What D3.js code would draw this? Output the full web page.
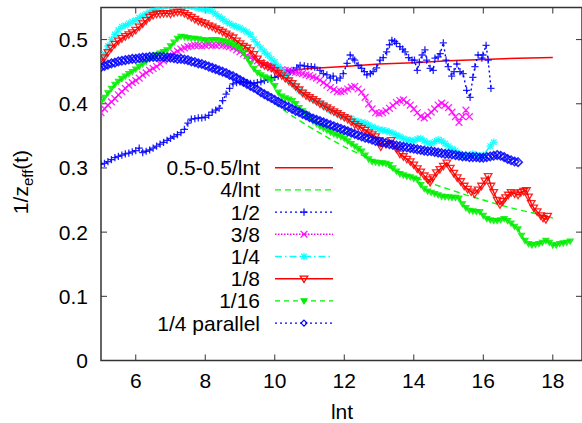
<html>
<head>
<script src="https://d3js.org/d3.v7.min.js"></script>
<style>
  body { margin: 0; background: #fff; }
  text { font-family: "Liberation Sans", Arial, Helvetica, sans-serif; fill: #000; }
</style>
</head>
<body>
<svg width="582" height="423"></svg>
<script>
// axis ticks
const xTicks = [6, 8, 10, 12, 14, 16, 18];
const yTicks = [0, 0.1, 0.2, 0.3, 0.4, 0.5];
const yTickLabels = ["0", "0.1", "0.2", "0.3", "0.4", "0.5"];
const seriesNames = ["0.5-0.5/lnt", "4/lnt", "1/2", "3/8", "1/4", "1/8", "1/16", "1/4 parallel"];

// [lnt, 1/z_eff]
const fitHalf = [[10,.450],[11,.455],[12,.458],[13,.462],[14,.464],[15,.467],[16,.469],[17,.471],[18,.472]];
const fitFour = [[10,.400],[10.5,.381],[11,.364],[11.5,.348],[12,.333],[12.5,.320],[13,.308],[13.5,.296],[14,.286],
  [14.5,.276],[15,.267],[15.5,.258],[16,.250],[16.5,.242],[17,.235],[17.5,.229],[18,.222]];

const half = [[5.0,.306],[5.1,.307],[5.2,.310],[5.3,.313],[5.4,.316],[5.5,.318],[5.6,.320],[5.7,.322],[5.8,.323],[5.9,.325],
  [6.0,.327],[6.1,.331],[6.2,.324],[6.3,.326],[6.4,.328],[6.5,.331],[6.6,.334],[6.7,.337],[6.8,.340],[6.9,.343],
  [7.0,.346],[7.1,.349],[7.2,.352],[7.3,.355],[7.4,.360],[7.5,.370],[7.6,.376],[7.7,.377],[7.8,.378],[7.9,.378],
  [8.0,.379],[8.1,.382],[8.2,.387],[8.3,.390],[8.4,.393],[8.5,.405],[8.6,.415],[8.7,.424],[8.8,.431],[8.9,.433],
  [9.0,.434],[9.1,.434],[9.2,.433],[9.3,.432],[9.4,.432],[9.5,.433],[9.6,.434],[9.7,.436],[9.8,.438],[9.9,.440],
  [10.0,.441],[10.1,.443],[10.24,.445],[10.35,.448],[10.45,.450],[10.53,.452],[10.63,.456],[10.73,.460],[10.85,.459],
  [10.95,.458],[11.05,.458],[11.15,.457],[11.3,.452],[11.4,.447],[11.5,.445],[11.6,.440],[11.68,.443],[11.78,.437],
  [11.88,.440],[11.97,.447],[12.08,.463],[12.17,.476],[12.25,.470],[12.3,.468],[12.4,.460],[12.5,.455],[12.58,.450],
  [12.65,.445],[12.75,.447],[12.83,.450],[12.93,.456],[13.03,.468],[13.12,.472],[13.22,.481],[13.3,.492],[13.37,.499],
  [13.45,.497],[13.5,.494],[13.6,.489],[13.68,.485],[13.75,.481],[13.85,.472],[13.95,.468],[14.02,.468],[14.1,.452],
  [14.16,.465],[14.24,.476],[14.32,.484],[14.37,.468],[14.47,.455],[14.56,.452],[14.61,.471],[14.7,.473],[14.76,.478],
  [14.85,.495],[14.93,.468],[14.99,.458],[15.09,.443],[15.16,.450],[15.24,.462],[15.33,.450],[15.42,.447],[15.52,.421],
  [15.62,.410],[15.7,.441],[15.76,.458],[15.85,.476],[15.96,.471],[15.99,.476],[16.08,.491],[16.14,.468],[16.22,.424]];

const threeEighth = [[5.0,.386],[5.1,.392],[5.2,.398],[5.3,.403],[5.4,.408],[5.5,.414],[5.6,.419],[5.7,.424],[5.8,.429],
  [5.9,.433],[6.0,.436],[6.1,.440],[6.2,.445],[6.3,.448],[6.4,.452],[6.5,.455],[6.6,.458],[6.7,.462],[6.8,.467],[6.9,.471],
  [7.0,.475],[7.1,.479],[7.2,.482],[7.3,.485],[7.4,.487],[7.5,.489],[7.6,.490],[7.7,.491],[7.8,.491],[7.9,.490],
  [8.0,.491],[8.1,.492],[8.2,.491],[8.3,.491],[8.4,.492],[8.5,.491],[8.6,.490],[8.7,.489],[8.8,.487],[8.9,.484],
  [9.0,.481],[9.1,.478],[9.2,.475],[9.3,.472],[9.4,.470],[9.5,.467],[9.6,.464],[9.7,.461],[9.8,.459],[9.9,.457],
  [10.0,.455],[10.1,.454],[10.2,.453],[10.3,.452],[10.4,.452],[10.5,.450],[10.6,.449],[10.7,.448],[10.8,.447],[10.9,.445],
  [11.0,.444],[11.1,.442],[11.2,.440],[11.3,.437],[11.4,.433],[11.5,.429],[11.6,.425],[11.7,.422],[11.8,.419],[11.9,.419],
  [12.0,.420],[12.1,.423],[12.2,.426],[12.3,.427],[12.4,.423],[12.5,.418],[12.6,.410],[12.7,.400],[12.8,.392],[12.9,.386],
  [13.0,.385],[13.1,.386],[13.2,.389],[13.3,.393],[13.4,.397],[13.5,.402],[13.6,.405],[13.7,.406],[13.8,.402],[13.9,.398],
  [14.0,.392],[14.1,.386],[14.2,.380],[14.3,.378],[14.4,.382],[14.5,.387],[14.6,.392],[14.7,.398],[14.8,.401],[14.9,.398],
  [15.0,.394],[15.1,.387],[15.2,.380],[15.3,.371],[15.4,.380],[15.5,.390],[15.6,.380]];

const quarter = [[5.0,.465],[5.1,.478],[5.2,.490],[5.3,.500],[5.4,.508],[5.5,.515],[5.6,.520],[5.7,.522],[5.8,.525],[5.9,.528],
  [6.0,.530],[6.1,.534],[6.2,.537],[6.3,.540],[6.4,.543],[6.5,.546],[6.6,.548],[6.7,.550],[6.8,.552],[6.9,.553],
  [7.0,.554],[7.1,.555],[7.2,.555],[7.3,.554],[7.4,.553],[7.5,.553],[7.6,.552],[7.7,.551],[7.8,.549],[7.9,.548],
  [8.0,.547],[8.1,.546],[8.2,.544],[8.3,.540],[8.4,.536],[8.5,.532],[8.6,.528],[8.7,.525],[8.8,.522],[8.9,.520],
  [9.0,.518],[9.1,.515],[9.2,.512],[9.3,.508],[9.4,.500],[9.5,.493],[9.6,.487],[9.7,.481],[9.8,.476],[9.9,.470],
  [10.0,.465],[10.1,.458],[10.2,.452],[10.3,.445],[10.4,.438],[10.5,.432],[10.6,.427],[10.7,.422],[10.8,.418],[10.9,.414],
  [11.0,.410],[11.1,.407],[11.2,.404],[11.3,.401],[11.4,.398],[11.5,.394],[11.6,.390],[11.7,.387],[11.8,.385],[11.9,.382],
  [12.0,.380],[12.1,.378],[12.2,.377],[12.3,.374],[12.4,.372],[12.5,.371],[12.6,.370],[12.7,.367],[12.8,.364],[12.9,.362],
  [13.0,.360],[13.1,.359],[13.2,.358],[13.3,.356],[13.4,.354],[13.5,.351],[13.6,.349],[13.7,.346],[13.8,.344],[13.9,.343],
  [14.0,.342],[14.1,.345],[14.2,.346],[14.3,.342],[14.4,.339],[14.5,.338],[14.6,.341],[14.7,.344],[14.8,.342],[14.9,.338],
  [15.0,.334],[15.1,.330],[15.2,.327],[15.3,.323],[15.4,.320],[15.5,.319],[15.6,.320],[15.7,.322],[15.8,.320],[15.9,.318],
  [16.0,.320],[16.2,.334],[16.3,.340]];

const eighth = [[5.0,.465],[5.1,.472],[5.2,.480],[5.3,.487],[5.4,.493],[5.5,.498],[5.6,.502],[5.7,.505],[5.8,.508],[5.9,.511],
  [6.0,.515],[6.1,.520],[6.2,.525],[6.3,.530],[6.4,.535],[6.5,.538],[6.6,.540],[6.7,.540],[6.8,.541],[6.9,.541],
  [7.0,.540],[7.1,.542],[7.2,.543],[7.3,.543],[7.4,.541],[7.5,.538],[7.6,.535],[7.7,.532],[7.8,.529],[7.9,.527],
  [8.0,.525],[8.1,.522],[8.2,.520],[8.3,.517],[8.4,.515],[8.5,.512],[8.6,.509],[8.7,.506],[8.8,.503],[8.9,.498],
  [9.0,.494],[9.1,.490],[9.2,.487],[9.3,.483],[9.4,.477],[9.5,.470],[9.6,.463],[9.7,.460],[9.8,.458],[9.9,.456],
  [10.0,.452],[10.1,.448],[10.2,.444],[10.3,.440],[10.4,.436],[10.5,.432],[10.6,.427],[10.7,.422],[10.8,.417],[10.9,.413],
  [11.0,.410],[11.1,.407],[11.2,.404],[11.3,.400],[11.4,.397],[11.5,.394],[11.6,.391],[11.7,.388],[11.8,.385],[11.9,.382],
  [12.0,.379],[12.1,.376],[12.2,.372],[12.3,.368],[12.4,.365],[12.5,.362],[12.6,.359],[12.7,.355],[12.8,.352],[12.9,.349],
  [13.0,.343],[13.05,.333],[13.2,.337],[13.35,.343],[13.5,.330],[13.6,.322],[13.7,.318],[13.8,.314],[13.9,.310],[14.0,.305],
  [14.1,.299],[14.2,.294],[14.3,.288],[14.4,.282],[14.47,.278],[14.55,.285],[14.65,.293],[14.75,.298],[14.85,.303],[14.95,.308],
  [15.05,.300],[15.15,.292],[15.25,.285],[15.35,.279],[15.45,.272],[15.55,.267],[15.65,.263],[15.75,.260],[15.85,.266],
  [15.95,.272],[16.05,.280],[16.14,.287],[16.22,.272],[16.3,.262],[16.4,.250],[16.48,.243],[16.56,.248],[16.64,.254],
  [16.72,.258],[16.8,.262],[16.9,.260],[17.0,.258],[17.08,.262],[17.16,.264],[17.24,.265],[17.3,.255],[17.38,.245],
  [17.45,.238],[17.55,.232],[17.65,.226],[17.72,.222],[17.8,.220],[17.85,.225]];

const sixteenth = [[5.0,.403],[5.1,.410],[5.2,.417],[5.3,.424],[5.4,.430],[5.5,.435],[5.6,.439],[5.7,.443],[5.8,.447],[5.9,.450],
  [6.0,.454],[6.1,.458],[6.2,.462],[6.3,.466],[6.4,.470],[6.5,.473],[6.6,.476],[6.7,.479],[6.8,.481],[6.9,.484],
  [7.0,.490],[7.1,.496],[7.2,.502],[7.3,.505],[7.4,.504],[7.5,.503],[7.6,.502],[7.7,.502],[7.8,.501],[7.9,.500],
  [8.0,.499],[8.1,.499],[8.2,.500],[8.3,.500],[8.4,.499],[8.5,.498],[8.6,.497],[8.7,.495],[8.8,.492],[8.9,.489],
  [9.0,.486],[9.1,.480],[9.2,.472],[9.3,.463],[9.4,.455],[9.5,.449],[9.6,.445],[9.7,.442],[9.8,.440],[9.9,.436],
  [10.0,.428],[10.1,.418],[10.2,.412],[10.3,.409],[10.4,.407],[10.5,.405],[10.6,.400],[10.7,.394],[10.8,.389],[10.9,.384],
  [11.0,.378],[11.1,.373],[11.2,.369],[11.3,.365],[11.4,.362],[11.5,.359],[11.6,.356],[11.7,.353],[11.8,.351],[11.9,.349],
  [12.0,.346],[12.1,.342],[12.2,.338],[12.3,.334],[12.4,.330],[12.5,.326],[12.6,.320],[12.7,.314],[12.8,.310],[12.9,.309],
  [13.0,.308],[13.1,.308],[13.2,.307],[13.3,.305],[13.4,.300],[13.5,.295],[13.6,.291],[13.7,.289],[13.8,.287],[13.9,.286],
  [14.0,.284],[14.1,.282],[14.2,.274],[14.3,.268],[14.4,.264],[14.5,.262],[14.6,.260],[14.7,.258],[14.8,.256],[14.9,.255],
  [15.0,.255],[15.1,.254],[15.2,.254],[15.3,.253],[15.4,.244],[15.5,.238],[15.6,.234],[15.7,.233],[15.8,.232],[15.9,.232],
  [16.0,.226],[16.1,.221],[16.2,.219],[16.3,.218],[16.4,.218],[16.5,.219],[16.6,.221],[16.7,.218],[16.8,.214],[16.9,.209],
  [17.0,.205],[17.1,.195],[17.2,.187],[17.3,.182],[17.4,.180],[17.5,.181],[17.6,.182],[17.7,.184],[17.8,.187],[17.9,.184],
  [18.0,.180],[18.1,.180],[18.2,.182],[18.3,.183],[18.4,.184],[18.5,.186]];

const quarterPar = [[5.0,.457],[5.1,.459],[5.2,.461],[5.3,.463],[5.4,.464],[5.5,.466],[5.6,.467],[5.7,.468],[5.8,.469],[5.9,.470],
  [6.0,.470],[6.1,.471],[6.2,.472],[6.3,.472],[6.4,.473],[6.5,.473],[6.6,.473],[6.7,.473],[6.8,.473],[6.9,.472],
  [7.0,.472],[7.1,.471],[7.2,.470],[7.3,.470],[7.4,.469],[7.5,.468],[7.6,.466],[7.7,.465],[7.8,.463],[7.9,.462],
  [8.0,.460],[8.1,.458],[8.2,.456],[8.3,.454],[8.4,.452],[8.5,.450],[8.6,.448],[8.7,.445],[8.8,.443],[8.9,.440],
  [9.0,.437],[9.1,.434],[9.2,.431],[9.3,.428],[9.4,.425],[9.5,.422],[9.6,.418],[9.7,.415],[9.8,.412],[9.9,.409],
  [10.0,.406],[10.1,.403],[10.2,.400],[10.3,.397],[10.4,.395],[10.5,.392],[10.6,.389],[10.7,.387],[10.8,.384],[10.9,.382],
  [11.0,.379],[11.1,.377],[11.2,.375],[11.3,.373],[11.4,.371],[11.5,.369],[11.6,.367],[11.7,.365],[11.8,.363],[11.9,.361],
  [12.0,.359],[12.1,.357],[12.2,.355],[12.3,.353],[12.4,.351],[12.5,.349],[12.6,.347],[12.7,.346],[12.8,.344],[12.9,.342],
  [13.0,.341],[13.1,.340],[13.2,.339],[13.3,.337],[13.4,.336],[13.5,.335],[13.6,.334],[13.7,.333],[13.8,.332],[13.9,.331],
  [14.0,.330],[14.1,.329],[14.2,.328],[14.3,.327],[14.4,.326],[14.5,.326],[14.6,.325],[14.7,.324],[14.8,.323],[14.9,.322],
  [15.0,.322],[15.1,.321],[15.2,.320],[15.3,.319],[15.4,.318],[15.5,.318],[15.6,.317],[15.7,.317],[15.8,.317],[15.9,.316],
  [16.0,.316],[16.1,.317],[16.2,.318],[16.3,.319],[16.4,.320],[16.5,.319],[16.6,.317],[16.7,.314],[16.8,.312],[16.9,.310],
  [17.0,.309]];

const allData = [fitHalf, fitFour, half, threeEighth, quarter, eighth, sixteenth, quarterPar];
const colors = ["#ff0000", "#00ff00", "#0000ff", "#ff00ff", "#00ffff", "#ff0000", "#00ee00", "#0000ff"];
const dashes = [null, "6,4", "2,3", "1.5,1.5", "7,3,1.5,3", null, "5,4", "2,3"];
const markers = [null, null, "plus", "cross", "star", "triDown", "triFill", "diamond"];

const svg = d3.select("svg");
const plot = { left: 101, right: 582, top: 7.5, bottom: 360.5 };

const x = d3.scaleLinear().domain([5, 18.84]).range([plot.left, plot.right]);
const y = d3.scaleLinear().domain([0, 0.55]).range([plot.bottom, plot.top]);

svg.append("defs").append("clipPath").attr("id", "clip")
   .append("rect")
   .attr("x", plot.left).attr("y", plot.top)
   .attr("width", plot.right - plot.left).attr("height", plot.bottom - plot.top);

function markerPath(type, s) {
    if (type === "plus") return `M${-s},0H${s}M0,${-s}V${s}`;
    if (type === "cross") return `M${-s},${-s}L${s},${s}M${-s},${s}L${s},${-s}`;
    if (type === "star") { const c = s * 0.75; return `M${-s},0H${s}M0,${-s}V${s}M${-c},${-c}L${c},${c}M${-c},${c}L${c},${-c}`; }
    if (type === "triDown" || type === "triFill") return `M${-s},${-s * 0.7}L${s},${-s * 0.7}L0,${s}Z`;
    if (type === "diamond") return `M0,${-s}L${s},0L0,${s}L${-s},0Z`;
    return "";
}
const markerSize = { plus: 3.6, cross: 3.4, star: 3.7, triDown: 3.8, triFill: 2.9, diamond: 4.2 };

// axes frame + ticks (gnuplot style: inward ticks on all sides)
const axisColor = "#333";
const axes = svg.append("g");
axes.append("rect")
    .attr("x", plot.left).attr("y", plot.top)
    .attr("width", plot.right - plot.left).attr("height", plot.bottom - plot.top)
    .attr("fill", "none").attr("stroke", axisColor).attr("stroke-width", 1.5);

xTicks.forEach(t => {
    axes.append("line").attr("x1", x(t)).attr("x2", x(t)).attr("y1", plot.bottom).attr("y2", plot.bottom - 6)
        .attr("stroke", axisColor);
    axes.append("line").attr("x1", x(t)).attr("x2", x(t)).attr("y1", plot.top).attr("y2", plot.top + 6)
        .attr("stroke", axisColor);
    axes.append("text").attr("x", x(t)).attr("y", 388).attr("text-anchor", "middle")
        .attr("font-size", 21).text(t);
});

yTicks.forEach((t, i) => {
    axes.append("line").attr("x1", plot.left).attr("x2", plot.left + 6).attr("y1", y(t)).attr("y2", y(t))
        .attr("stroke", axisColor);
    axes.append("line").attr("x1", plot.right).attr("x2", plot.right - 6).attr("y1", y(t)).attr("y2", y(t))
        .attr("stroke", axisColor);
    axes.append("text").attr("x", 88).attr("y", y(t) + 7.5).attr("text-anchor", "end")
        .attr("font-size", 21).text(yTickLabels[i]);
});

// axis labels
svg.append("text").attr("x", 342).attr("y", 419).attr("text-anchor", "middle")
   .attr("font-size", 21).text("lnt");

const yl = svg.append("text").attr("transform", "translate(28,182) rotate(-90)")
   .attr("text-anchor", "middle").attr("font-size", 21);
yl.append("tspan").text("1/z");
yl.append("tspan").attr("font-size", 15).attr("dy", 5).text("eff");
yl.append("tspan").attr("dy", -5).text("(t)");

// data
const line = d3.line().x(d => x(d[0])).y(d => y(d[1]));
const dataLayer = svg.append("g").attr("clip-path", "url(#clip)");

allData.forEach((data, i) => {
    const g = dataLayer.append("g");
    g.append("path")
     .datum(data)
     .attr("d", line)
     .attr("fill", "none")
     .attr("stroke", colors[i])
     .attr("stroke-width", 1.4)
     .attr("stroke-dasharray", dashes[i]);

    if (markers[i]) {
        const m = markers[i];
        g.selectAll("path.pt")
         .data(data)
         .enter().append("path")
         .attr("class", "pt")
         .attr("transform", d => `translate(${x(d[0])},${y(d[1])})`)
         .attr("d", markerPath(m, markerSize[m]))
         .attr("fill", m === "triFill" ? colors[i] : "none")
         .attr("stroke", colors[i])
         .attr("stroke-width", m === "diamond" ? 1.6 : 1.3)
         .attr("opacity", 0.85);
    }
});

// legend
const legend = svg.append("g");
seriesNames.forEach((name, i) => {
    const ly = 167.7 + i * 22.2;
    legend.append("text").attr("x", 260).attr("y", ly + 7.5).attr("text-anchor", "end")
          .attr("font-size", 21).text(name);
    legend.append("line").attr("x1", 275).attr("x2", 333).attr("y1", ly).attr("y2", ly)
          .attr("stroke", colors[i]).attr("stroke-width", 1.4)
          .attr("stroke-dasharray", dashes[i]);
    if (markers[i]) {
        const m = markers[i];
        legend.append("path")
              .attr("transform", `translate(304,${ly})`)
              .attr("d", markerPath(m, m === "diamond" ? 3 : markerSize[m]))
              .attr("fill", m === "triFill" ? colors[i] : "none")
              .attr("stroke", colors[i]).attr("stroke-width", 1.2);
    }
});
</script>
</body>
</html>
